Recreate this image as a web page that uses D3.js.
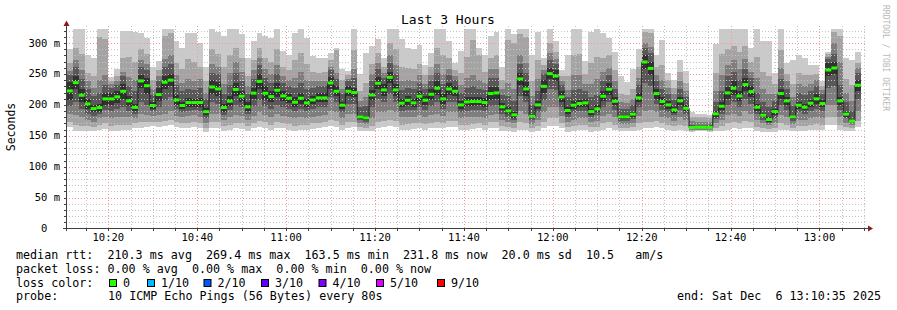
<!DOCTYPE html>
<html>
<head>
<meta charset="utf-8">
<script src="https://cdnjs.cloudflare.com/ajax/libs/d3/7.8.5/d3.min.js"></script>
<style>
body { margin: 0; background: #fff; }
svg text { font-family: "DejaVu Sans Mono", monospace; white-space: pre; }
</style>
</head>
<body>
<div class="chart"></div>
<script>
// smokeping: 10 pings every 80s, last 3 hours
var firstStep = new Date(2025, 11, 6, 10, 10, 40);
var stepSec = 80;

var median = [222.6,236,215.6,201.6,194,195.7,209.7,209.7,213,222,
  206.5,196,238.7,231,199,216.7,236.6,240,208,199,
  203.8,203.8,203.8,189,229,225.8,195.7,206,225,214,
  196.8,219,238,218.8,213.4,223.7,214.5,210.8,204.3,210.8,
  203.2,208,211.3,211.3,235.5,222,199.5,222,219.9,180.6,
  179,216,235,224.2,244.6,224.2,202.7,207.5,203.2,214,
  207.5,217.2,226.9,209.7,225.8,222,200,204.8,205.4,205.4,
  203.8,218.3,219.4,196.8,190.3,183.9,242,225.8,181.7,200,
  230,250.5,246.8,212.9,190.9,199.5,202.2,203.2,189.2,193.5,
  214,225.3,205.9,180.6,180.6,185,211.3,269.4,259,218.3,
  205.4,200,192,206.5,194.6,163.4,164,164,163.5,185.5,
  197.8,219.4,226.9,214.5,232.8,221.5,196.2,183.3,176.3,189.2,
  218.3,206.5,180.6,199.5,196.2,202.7,209.7,202.2,256.5,259.7,
  206.5,185,173.7,231.8];

// sorted ping values per step, ping1 = fastest ... ping10 = slowest
var ping1 = [164,158,158,157,157,160,161,158,158,159, 160,163,163,164,166,165,166,168,165,162,
  163,164,162,156,162,163,158,160,162,161, 158,162,164,162,160,163,162,160,158,160,
  160,161,163,164,166,164,160,162,164,158, 157,158,162,164,166,165,160,160,161,162,
  160,162,163,162,164,164,160,160,161,162, 160,162,163,158,157,156,160,160,156,158,
  162,166,166,162,156,158,160,160,156,158, 160,162,160,157,157,158,160,162,162,164,
  162,160,158,160,158,156,157,157,156,157, 158,160,162,161,162,162,157,156,156,156,
  160,160,157,158,158,160,160,160,168,168, 160,158,158,164];
var ping2 = [172,168,166,166,164,168,170,166,168,167, 168,170,172,172,173,172,174,176,172,170,
  171,172,170,163,172,172,166,168,170,170, 166,170,174,172,168,172,170,169,166,168,
  168,170,171,172,176,174,168,172,172,164, 163,166,172,174,176,174,168,169,170,171,
  169,171,173,170,174,174,168,168,169,170, 168,172,172,166,164,163,172,170,162,166,
  172,178,178,170,164,166,168,168,164,165, 170,172,168,163,163,164,170,172,172,174,
  170,168,166,168,166,158,159,159,158,163, 166,170,172,170,174,172,165,162,161,163,
  170,168,163,166,166,168,169,168,180,180, 168,164,163,174];
var ping3 = [186,184,180,176,172,178,180,178,180,181, 180,178,185,184,182,184,186,190,182,180,
  182,183,181,170,186,185,176,180,184,182, 176,182,188,184,180,186,182,180,178,180,
  179,181,182,183,190,188,178,186,186,170, 169,178,188,188,192,188,180,180,181,183,
  180,184,186,182,188,188,178,180,180,181, 179,184,185,176,172,170,190,186,169,176,
  188,196,196,182,172,176,178,179,172,174, 182,186,180,169,169,171,182,190,192,188,
  181,178,174,180,175,160,160,160,160,170, 176,184,186,182,190,186,175,170,167,171,
  184,180,169,176,176,179,181,179,200,200, 180,171,167,190];
var ping4 = [198,205,194,186,182,186,192,190,194,196, 190,186,205,200,190,196,208,212,194,188,
  190,192,190,178,204,202,184,192,200,196, 185,198,208,198,194,200,196,194,190,194,
  190,194,196,196,212,204,188,202,202,175, 173,196,210,204,218,204,190,192,191,196,
  192,198,204,194,204,204,188,190,191,192, 190,198,200,186,180,176,215,204,175,188,
  208,226,224,196,181,188,190,190,180,184, 196,204,192,174,174,177,196,236,230,202,
  192,188,183,192,185,161,162,162,161,177, 186,200,204,196,210,202,185,176,171,179,
  200,192,174,188,186,190,194,190,228,230, 192,178,170,210];
var ping5 = [208,225,205,193,188,189,200,200,203,210, 198,190,228,218,194,206,226,230,200,193,
  196,197,196,183,218,214,189,198,214,205, 190,210,226,208,204,212,206,203,197,202,
  196,201,204,204,226,214,194,214,212,177, 176,208,225,215,236,214,196,200,196,206,
  200,208,216,202,216,214,194,198,198,199, 197,208,210,191,185,179,232,215,178,194,
  220,242,238,204,186,193,196,197,184,188, 206,216,199,177,177,181,204,258,248,210,
  199,194,187,200,190,162,163,163,162,181, 192,210,216,206,222,212,190,180,173,184,
  210,200,177,194,191,197,202,196,246,250, 200,181,172,222];
var ping6 = [237,247,226,210,200,202,219,219,223,234, 215,202,249,244,204,227,247,250,216,205,
  211,210,211,195,240,237,202,214,236,223, 204,228,250,230,223,235,223,218,212,220,
  210,215,219,219,245,230,205,230,228,184, 182,224,245,233,253,234,209,215,210,222,
  215,226,238,217,236,230,206,212,213,212, 211,229,229,203,196,189,252,237,186,206,
  240,259,256,222,196,206,208,210,194,199, 222,235,213,184,184,189,219,281,270,226,
  212,206,197,213,199,165,165,165,165,190, 204,229,238,223,244,231,202,187,180,194,
  226,213,184,205,201,208,217,208,267,269, 213,189,176,241];
var ping7 = [248,262,242,226,214,220,232,228,232,246, 230,222,262,256,216,238,262,266,232,222,
  226,224,228,210,252,250,218,232,252,238, 218,242,264,244,236,250,236,230,228,236,
  226,228,230,230,256,242,218,238,244,196, 198,238,258,244,268,250,224,228,225,236,
  226,238,252,234,248,240,220,228,230,226, 224,244,244,216,214,206,266,252,200,222,
  250,272,266,232,212,224,226,222,212,216, 238,248,226,194,194,200,232,292,284,238,
  226,218,208,226,212,168,168,168,168,205, 222,246,254,240,258,244,220,204,196,206,
  242,226,198,220,216,222,230,218,274,282, 232,204,190,252];
var ping8 = [255,272,256,238,228,240,248,233,238,254, 245,240,272,266,226,246,274,280,248,236,
  242,238,242,220,266,262,234,252,270,254, 230,256,276,258,250,264,246,240,244,254,
  240,238,238,238,262,252,226,242,258,206, 212,250,268,252,280,264,238,240,238,248,
  234,248,266,250,258,246,232,244,248,240, 236,258,258,226,236,226,280,268,214,242,
  256,284,274,238,224,248,248,234,234,242, 254,260,238,204,203,210,244,300,294,248,
  240,228,218,238,222,174,173,173,172,222, 248,264,272,258,274,254,244,226,218,218,
  260,238,212,234,230,234,240,224,278,300, 270,220,206,260];
var ping9 = [268,292,282,252,246,310,306,238,246,276, 278,270,290,282,240,256,312,316,268,258,
  274,270,262,238,290,282,262,280,292,276, 246,272,292,276,270,290,262,256,272,284,
  266,254,252,254,272,288,240,248,288,222, 236,266,284,262,300,290,262,260,258,266,
  248,262,292,280,276,256,252,278,305,280, 254,276,280,240,305,300,314,310,238,272,
  264,300,286,246,246,280,282,250,268,278, 276,280,256,218,216,226,262,318,316,262,
  264,240,228,254,236,181,180,180,178,252, 282,290,296,286,296,270,278,254,246,234,
  288,250,234,252,248,248,250,230,282,318, 312,242,232,268];
var ping10 = [290,322,322,281,276,322,322,245,258,320, 320,318,316,308,262,271,322,322,303,292,
  317,317,300,262,322,318,312,322,322,314, 276,303,316,312,308,322,287,281,316,322,
  308,279,276,276,284,292,258,255,322,250, 284,295,306,276,322,322,306,292,290,297,
  265,284,322,322,303,268,287,322,322,292, 281,312,318,262,322,314,322,322,281,318,
  276,322,303,257,281,322,322,271,318,322, 316,308,285,247,237,258,290,322,322,281,
  305,252,240,273,255,188,186,186,184,299, 322,322,322,322,322,292,322,303,303,252,
  322,268,272,281,276,265,265,238,285,322, 322,276,272,285];

var yTicks = [0, 50, 100, 150, 200, 250, 300];
var yTickLabels = ["0  ", "50 m", "100 m", "150 m", "200 m", "250 m", "300 m"];
var xTickLabels = ["10:20", "10:40", "11:00", "11:20", "11:40", "12:00", "12:20", "12:40", "13:00"];

var legendRtt = "median rtt:  210.3 ms avg  269.4 ms max  163.5 ms min  231.8 ms now  20.0 ms sd  10.5   am/s";
var legendLoss = "packet loss: 0.00 % avg  0.00 % max  0.00 % min  0.00 % now";
var lossLabels = ["0", "1/10", "2/10", "3/10", "4/10", "5/10", "9/10"];
var lossColors = ["#26ff00", "#00b8ff", "#0059ff", "#5e00ff", "#7e00ff", "#dd00ff", "#ff0000"];
var probeText = "10 ICMP Echo Pings (56 Bytes) every 80s";
var endText = "end: Sat Dec  6 13:10:35 2025";

var smokeColors = ["#cacaca", "#a4a4a4", "#7e7e7e", "#585858", "#323232"];

var W = 897, H = 310;
var svg = d3.select(".chart").append("svg")
    .attr("width", W).attr("height", H);
svg.append("rect").attr("width", W).attr("height", H).attr("fill", "#fff");

var t0 = new Date(2025, 11, 6, 10, 10, 35);
var t1 = new Date(2025, 11, 6, 13, 10, 35);
var x = d3.scaleTime().domain([t0, t1]).range([66.5, 866.5]);
var y = d3.scaleLinear().domain([0, 326]).range([228.5, 27]);

var steps = median.map(function(m, i) {
    return new Date(firstStep.getTime() + i * stepSec * 1000);
});
var stepEnd = new Date(firstStep.getTime() + median.length * stepSec * 1000);

// smoke: band i covers ping(i) .. ping(11-i)
var pings = [ping1, ping2, ping3, ping4, ping5, ping6, ping7, ping8, ping9, ping10];
for (var b = 0; b < 5; b++) {
    var lo = pings[b], hi = pings[9 - b];
    var pts = steps.map(function(t, i) { return {t: t, lo: lo[i], hi: hi[i]}; });
    pts.push({t: stepEnd, lo: lo[lo.length - 1], hi: hi[hi.length - 1]});
    var area = d3.area()
        .x(function(d) { return x(d.t); })
        .y0(function(d) { return y(d.lo); })
        .y1(function(d) { return y(d.hi); })
        .curve(d3.curveStepAfter);
    svg.append("path").datum(pts)
        .attr("d", area)
        .attr("fill", smokeColors[b])
        .attr("shape-rendering", "crispEdges");
}

// grid
var minorX = d3.timeMinute.every(5).range(t0, t1);
var majorX = d3.timeMinute.every(20).range(t0, t1);
var minorY = d3.range(10, 326, 10);
var gridMinor = "#c4c4c4", gridMajor = "#f29a9a";

svg.selectAll(".gx").data(minorX).enter().append("line")
    .attr("x1", function(d) { return Math.round(x(d)) + 0.5; })
    .attr("x2", function(d) { return Math.round(x(d)) + 0.5; })
    .attr("y1", 228).attr("y2", 26)
    .style("stroke", gridMinor).style("stroke-dasharray", "1,2");
svg.selectAll(".gy").data(minorY).enter().append("line")
    .attr("x1", 66).attr("x2", 866)
    .attr("y1", function(d) { return Math.round(y(d)) + 0.5; })
    .attr("y2", function(d) { return Math.round(y(d)) + 0.5; })
    .style("stroke", gridMinor).style("stroke-dasharray", "1,2");
svg.selectAll(".mx").data(majorX).enter().append("line")
    .attr("x1", function(d) { return Math.round(x(d)) + 0.5; })
    .attr("x2", function(d) { return Math.round(x(d)) + 0.5; })
    .attr("y1", 228).attr("y2", 26)
    .style("stroke", gridMajor).style("stroke-dasharray", "1,2");
svg.selectAll(".my").data(yTicks.slice(1)).enter().append("line")
    .attr("x1", 66).attr("x2", 866)
    .attr("y1", function(d) { return Math.round(y(d)) + 0.5; })
    .attr("y2", function(d) { return Math.round(y(d)) + 0.5; })
    .style("stroke", gridMajor).style("stroke-dasharray", "1,2");

// median line + loss colour marks
var medLine = d3.line()
    .x(function(d) { return x(d.t); })
    .y(function(d) { return y(d.m); })
    .curve(d3.curveStepAfter);
var medPts = steps.map(function(t, i) { return {t: t, m: median[i]}; });
medPts.push({t: stepEnd, m: median[median.length - 1]});
svg.append("path").datum(medPts)
    .attr("d", medLine)
    .attr("fill", "none")
    .style("stroke", "#202020").style("stroke-width", 1);

svg.selectAll(".med").data(steps).enter().append("rect")
    .attr("x", function(d) { return x(d); })
    .attr("width", function(d) { return x(new Date(d.getTime() + stepSec * 1000)) - x(d); })
    .attr("y", function(d, i) { return y(median[i]) - 1.5; })
    .attr("height", 3)
    .attr("fill", lossColors[0]);

// axes
svg.append("line").attr("x1", 63).attr("x2", 868).attr("y1", 228.5).attr("y2", 228.5)
    .style("stroke", "#404040");
svg.append("line").attr("x1", 66.5).attr("x2", 66.5).attr("y1", 231).attr("y2", 24)
    .style("stroke", "#404040");
svg.append("path").attr("d", "M868,225.5 L873,228.5 L868,231.5 Z").attr("fill", "#8b1c1c");
svg.append("path").attr("d", "M63.5,26 L66.5,20.5 L69.5,26 Z").attr("fill", "#8b1c1c");

svg.selectAll(".ty").data(minorY).enter().append("line")
    .attr("x1", 64).attr("x2", 66)
    .attr("y1", function(d) { return Math.round(y(d)) + 0.5; })
    .attr("y2", function(d) { return Math.round(y(d)) + 0.5; })
    .style("stroke", "#404040");
svg.selectAll(".tx").data(minorX).enter().append("line")
    .attr("x1", function(d) { return Math.round(x(d)) + 0.5; })
    .attr("x2", function(d) { return Math.round(x(d)) + 0.5; })
    .attr("y1", 228).attr("y2", 231)
    .style("stroke", "#404040");

svg.selectAll(".ly").data(yTicks).enter().append("text")
    .attr("x", 60).attr("y", function(d) { return y(d) + 3.5; })
    .attr("text-anchor", "end")
    .style("font-size", "10.5px").attr("fill", "#000")
    .text(function(d, i) { return yTickLabels[i]; });
svg.selectAll(".lx").data(majorX).enter().append("text")
    .attr("x", function(d) { return x(d); }).attr("y", 241)
    .attr("text-anchor", "middle")
    .style("font-size", "10.5px").attr("fill", "#000")
    .text(function(d, i) { return xTickLabels[i]; });

// titles
svg.append("text").attr("x", 448).attr("y", 24).attr("text-anchor", "middle")
    .style("font-size", "13px").attr("fill", "#000").text("Last 3 Hours");
svg.append("text").attr("transform", "translate(15,127) rotate(-90)")
    .attr("text-anchor", "middle")
    .style("font-size", "11.5px").attr("fill", "#000").text("Seconds");
svg.append("text").attr("transform", "translate(883,5) rotate(90)")
    .style("font-size", "8px").attr("fill", "#b8b8b8").text("RRDTOOL / TOBI OETIKER");

// legend
var lg = {x: 16, y0: 259, dy: 13.8, size: "11.7px"};
svg.append("text").attr("x", lg.x).attr("y", lg.y0)
    .style("font-size", lg.size).attr("fill", "#000").text(legendRtt);
svg.append("text").attr("x", lg.x).attr("y", lg.y0 + lg.dy)
    .style("font-size", lg.size).attr("fill", "#000").text(legendLoss);
svg.append("text").attr("x", lg.x).attr("y", lg.y0 + 2 * lg.dy)
    .style("font-size", lg.size).attr("fill", "#000").text("loss color:");
svg.append("text").attr("x", lg.x).attr("y", lg.y0 + 3 * lg.dy)
    .style("font-size", lg.size).attr("fill", "#000").text("probe:");
svg.append("text").attr("x", lg.x + 13 * 7.08).attr("y", lg.y0 + 3 * lg.dy)
    .style("font-size", lg.size).attr("fill", "#000").text(probeText);
svg.append("text").attr("x", 881).attr("y", lg.y0 + 3 * lg.dy).attr("text-anchor", "end")
    .style("font-size", lg.size).attr("fill", "#000").text(endText);

var boxX = [109, 147, 203.5, 261, 318.5, 376, 437];
for (var i = 0; i < lossLabels.length; i++) {
    svg.append("rect")
        .attr("x", boxX[i] + 0.5).attr("y", 279.5)
        .attr("width", 7).attr("height", 7)
        .attr("fill", lossColors[i])
        .style("stroke", "#000").style("stroke-width", 1);
    svg.append("text")
        .attr("x", boxX[i] + 14).attr("y", lg.y0 + 2 * lg.dy)
        .style("font-size", lg.size).attr("fill", "#000")
        .text(lossLabels[i]);
}
</script>
</body>
</html>
